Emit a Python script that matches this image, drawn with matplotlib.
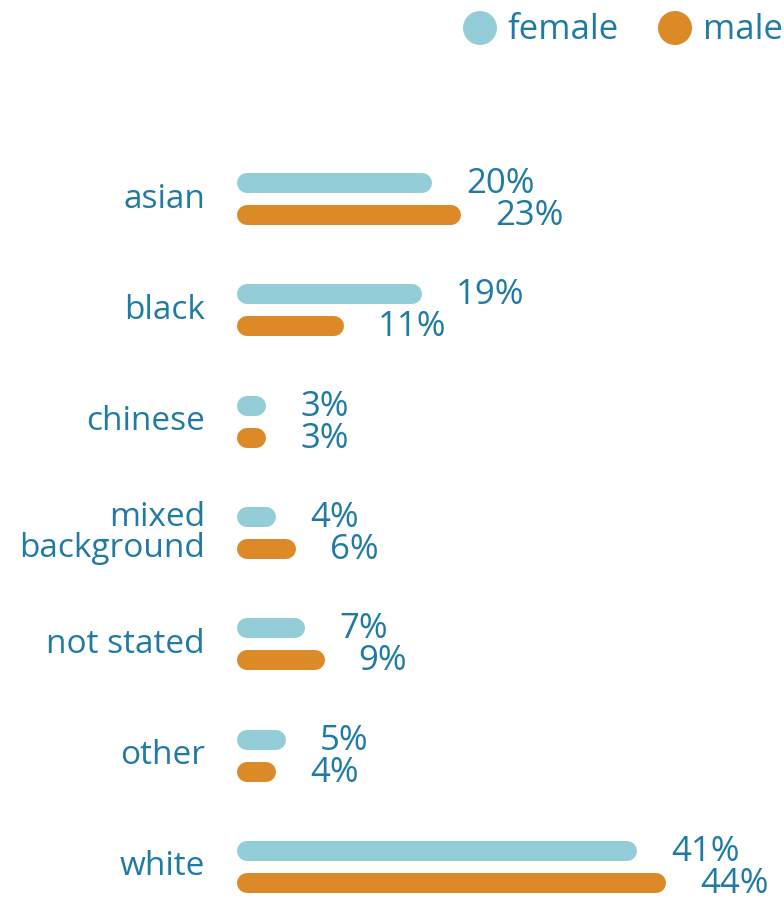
import matplotlib
matplotlib.use("Agg")
import matplotlib.pyplot as plt
from matplotlib.patches import Ellipse

categories = ["asian", "black", "chinese", "mixed\nbackground", "not stated", "other", "white"]
female = [20, 19, 3, 4, 7, 5, 41]
male = [23, 11, 3, 6, 9, 4, 44]
series_names = ["female", "male"]

FEMALE_C = "#93CED8"
MALE_C = "#DC8A28"
TEXT_C = "#1F7BA4"
FONT = ["Open Sans", "DejaVu Sans"]

W, H = 784, 905
fig = plt.figure(figsize=(W / 100, H / 100), dpi=100)
ax = fig.add_axes([0, 0, 1, 1])

# pixel-based layout: x in percent units, y in pixel rows
px_per_pct = 9.75
x0_px = 237
ax.set_xlim(-x0_px / px_per_pct, (W - x0_px) / px_per_pct)
ax.set_ylim(H, 0)
ax.axis("off")

bar_h_px = 20
r = (bar_h_px / 2) / px_per_pct          # cap radius in data units
lw_pt = bar_h_px * 72 / 100

first_row = 183
row_step = 111.3
pair_gap = 32
label_gap = 34 / px_per_pct


def draw_bar(v, y, color):
    start = r
    end = max(v - r, start)
    ax.plot([start, end], [y, y], color=color, lw=lw_pt,
            solid_capstyle="round", zorder=2)


for i, cat in enumerate(categories):
    yf = first_row + i * row_step
    ym = yf + pair_gap
    draw_bar(female[i], yf, FEMALE_C)
    draw_bar(male[i], ym, MALE_C)
    ax.text(female[i] + label_gap, yf + 1, f"{female[i]}%", color=TEXT_C,
            fontsize=25, family=FONT, ha="left", va="center")
    ax.text(male[i] + label_gap, ym + 1, f"{male[i]}%", color=TEXT_C,
            fontsize=25, family=FONT, ha="left", va="center")
    ax.text((205 - x0_px) / px_per_pct, (yf + ym) / 2, cat, color=TEXT_C,
            fontsize=24, family=FONT, ha="right", va="center",
            linespacing=0.95)

# legend
leg_items = [(480, series_names[0], FEMALE_C), (675, series_names[1], MALE_C)]
for cx, name, col in leg_items:
    fig.patches.append(Ellipse((cx / W, 1 - 28 / H), 34 / W, 34 / H,
                               transform=fig.transFigure,
                               facecolor=col, edgecolor="none"))
    fig.text((cx + 28) / W, 1 - 30 / H, name, color=TEXT_C, fontsize=25,
             family=FONT, ha="left", va="center")

fig.savefig("out.png", dpi=100)
